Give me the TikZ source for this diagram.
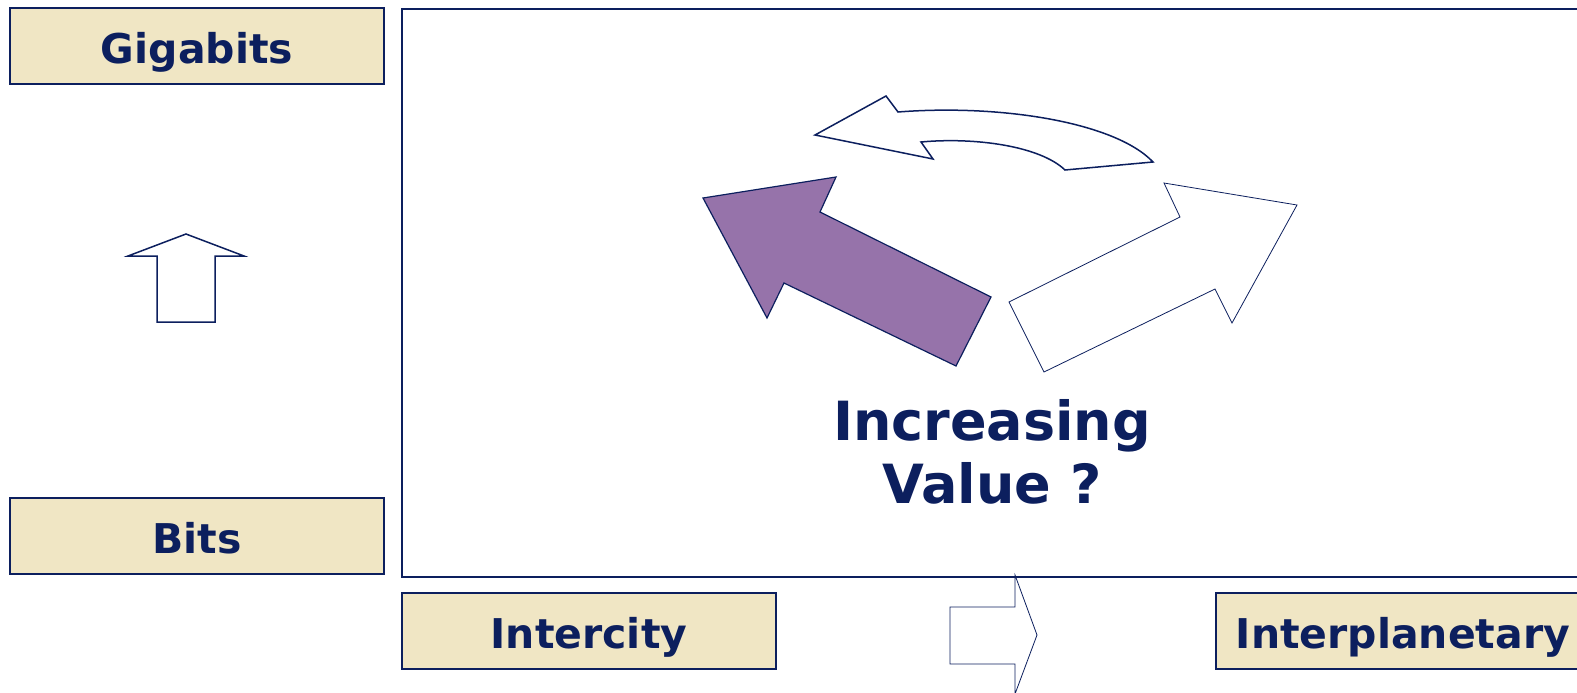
\documentclass[tikz,border=0pt]{standalone}
\usepackage{fontspec}
\setmainfont{DejaVu Sans}
\definecolor{navy}{HTML}{0C1F5E}
\definecolor{beige}{HTML}{F0E6C4}
\definecolor{lilac}{HTML}{9673AA}
\tikzset{
  tag/.style={draw=navy, line width=1.6pt, fill=beige, minimum width=374pt,
    minimum height=76pt, inner sep=0pt, text height=35pt, text depth=0pt,
    text=navy, font=\fontsize{41pt}{49pt}\selectfont\bfseries},
  bigtext/.style={text=navy, inner sep=0pt, anchor=base,
    font=\fontsize{54pt}{63pt}\selectfont\bfseries},
  outline/.style={draw=navy, line width=1.5pt, fill=white, line join=miter},
  thinoutline/.style={draw=navy, line width=0.8pt, fill=white},
}
\begin{document}
\begin{tikzpicture}[x=1pt,y=-1pt]
\useasboundingbox (0,0) rectangle (1577,693);
\clip (0,0) rectangle (1577,693);

% frame of the value plane
\draw[navy, line width=2pt] (402,9) rectangle (1620,577);

% axis labels
\node[tag] (giga)  at (197,46)   {Gigabits};
\node[tag] (bits)  at (197,536)  {Bits};
\node[tag] (city)  at (589,631)  {Intercity};
\node[tag] (plan)  at (1403,631) {Interplanetary};

% upward block arrow between the bit-rate labels
\draw[outline] (186,234) -- (244,256) -- (215,256) -- (215,322)
  -- (157,322) -- (157,256) -- (128,256) -- cycle;

% rightward block arrow between the distance labels
\draw[thinoutline] (950,607) -- (1015,607) -- (1015,575) -- (1037,635)
  -- (1015,694) -- (1015,664) -- (950,664) -- cycle;

% curved return arrow
\draw[outline] (815,135) -- (886,96) -- (898,112)
  .. controls (1000,104) and (1115,122) .. (1153,162)
  -- (1065,170)
  .. controls (1040,146) and (975,137) .. (921,142)
  -- (933,159) -- cycle;

% filled arrow pointing up-left
\draw[draw=navy, line width=1.2pt, fill=lilac] (703,198) -- (836,177) -- (820,212)
  -- (991,297) -- (956,366) -- (784,283) -- (767,318) -- cycle;

% outlined arrow pointing up-right
\draw[thinoutline] (1044,372) -- (1009,302) -- (1180,217) -- (1164,183)
  -- (1297,205) -- (1232,323) -- (1215,289) -- cycle;

% caption
\node[bigtext] (inc) at (992,440) {Increasing};
\node[bigtext] (val) at (992,503) {Value ?};
\end{tikzpicture}
\end{document}
